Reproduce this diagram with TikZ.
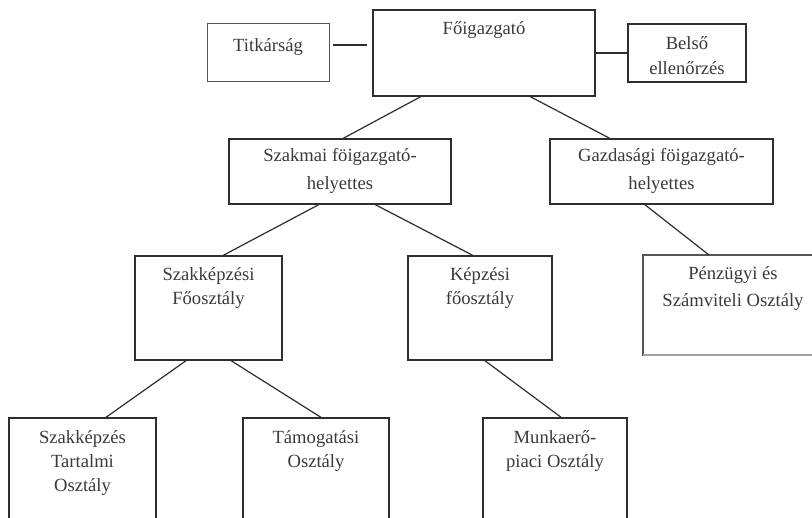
\documentclass[tikz,border=0pt]{standalone}
\usepackage{fontspec}
\setmainfont{Liberation Serif}
\definecolor{boxc}{HTML}{2E2E2E}
\definecolor{txtc}{HTML}{3A3A3A}
\definecolor{lightc}{HTML}{555555}
\definecolor{paleline}{HTML}{A0A0A0}
\begin{document}
\begin{tikzpicture}[x=1pt,y=-1pt,
  box/.style={draw=boxc, line width=1.5pt, inner sep=0pt, outer sep=0pt, anchor=north west},
  lbox/.style={box, draw=lightc, line width=1pt},
  txt/.style={anchor=north, inner sep=0pt, align=center, text=txtc, font=\fontsize{18.6}{24}\selectfont},
  conn/.style={draw=boxc, line width=1.2pt}]
\useasboundingbox (0,0) rectangle (812,518);
\clip (0,0) rectangle (812,518);
\fill[white] (0,0) rectangle (812,518);
% boxes
\node[lbox, minimum width=122pt, minimum height=58pt] (tit) at (207,24) {};
\node[box, minimum width=222pt, minimum height=86pt] (fo) at (373,10) {};
\node[box, minimum width=118pt, minimum height=58pt] (bel) at (628,24) {};
\node[box, minimum width=222pt, minimum height=65pt] (szm) at (229,139) {};
\node[box, minimum width=223pt, minimum height=65pt] (gaz) at (550,139) {};
\node[box, minimum width=147pt, minimum height=104pt] (szk) at (135,256) {};
\node[box, minimum width=144pt, minimum height=104pt] (kep) at (408,256) {};
\node[lbox, line width=1.2pt, minimum width=190pt, minimum height=100pt] (pen) at (643,255) {};
\draw[draw=paleline, line width=2pt] (pen.south west) -- (pen.south east);
\node[box, minimum width=147pt, minimum height=130pt] (szt) at (9,418) {};
\node[box, minimum width=146pt, minimum height=130pt] (tam) at (243,418) {};
\node[box, minimum width=144pt, minimum height=130pt] (mun) at (483,418) {};
% texts
\node[txt] (tit-t) at ([yshift=-10pt]tit.north) {\rule{0pt}{17pt}Titkárság};
\node[txt] (fo-t) at ([yshift=-7pt]fo.north) {\rule{0pt}{17pt}Főigazgató};
\node[txt, font=\fontsize{18.6}{25}\selectfont] (bel-t) at ([yshift=-8pt]bel.north) {\rule{0pt}{17pt}Belső\\ellenőrzés};
\node[txt, font=\fontsize{18.6}{28}\selectfont] (szm-t) at ([yshift=-5pt]szm.north) {\rule{0pt}{17pt}Szakmai föigazgató-\\helyettes};
\node[txt, font=\fontsize{18.6}{28}\selectfont] (gaz-t) at ([yshift=-5pt]gaz.north) {\rule{0pt}{17pt}Gazdasági föigazgató-\\helyettes};
\node[txt] (szk-t) at ([yshift=-7pt]szk.north) {\rule{0pt}{17pt}Szakképzési\\Főosztály};
\node[txt] (kep-t) at ([yshift=-7pt]kep.north) {\rule{0pt}{17pt}Képzési\\főosztály};
\node[txt, font=\fontsize{18.6}{27}\selectfont] (pen-t) at ([xshift=-5pt,yshift=-7pt]pen.north) {\rule{0pt}{17pt}Pénzügyi és\\Számviteli Osztály};
\node[txt] (szt-t) at ([yshift=-8pt]szt.north) {\rule{0pt}{17pt}Szakképzés\\Tartalmi\\Osztály};
\node[txt] (tam-t) at ([yshift=-8pt]tam.north) {\rule{0pt}{17pt}Támogatási\\Osztály};
\node[txt] (mun-t) at ([yshift=-8pt]mun.north) {\rule{0pt}{17pt}Munkaerő-\\piaci Osztály};
% connectors
\draw[conn] ([xshift=4pt,yshift=-21pt]tit.north east) -- ([xshift=-6pt,yshift=-35pt]fo.north west);
\draw[conn] (fo.east) -- (bel.west);
\draw[conn] ([xshift=49pt]fo.south west) -- ([xshift=113pt]szm.north west);
\draw[conn] ([xshift=156pt]fo.south west) -- ([xshift=61pt]gaz.north west);
\draw[conn] ([xshift=91pt]szm.south west) -- ([xshift=87pt]szk.north west);
\draw[conn] ([xshift=145pt]szm.south west) -- ([xshift=66pt]kep.north west);
\draw[conn] ([xshift=94pt]gaz.south west) -- ([xshift=66pt]pen.north west);
\draw[conn] ([xshift=52pt]szk.south west) -- ([xshift=96pt]szt.north west);
\draw[conn] ([xshift=95pt]szk.south west) -- ([xshift=79pt]tam.north west);
\draw[conn] ([xshift=76pt]kep.south west) -- ([xshift=79pt]mun.north west);
\end{tikzpicture}
\end{document}
